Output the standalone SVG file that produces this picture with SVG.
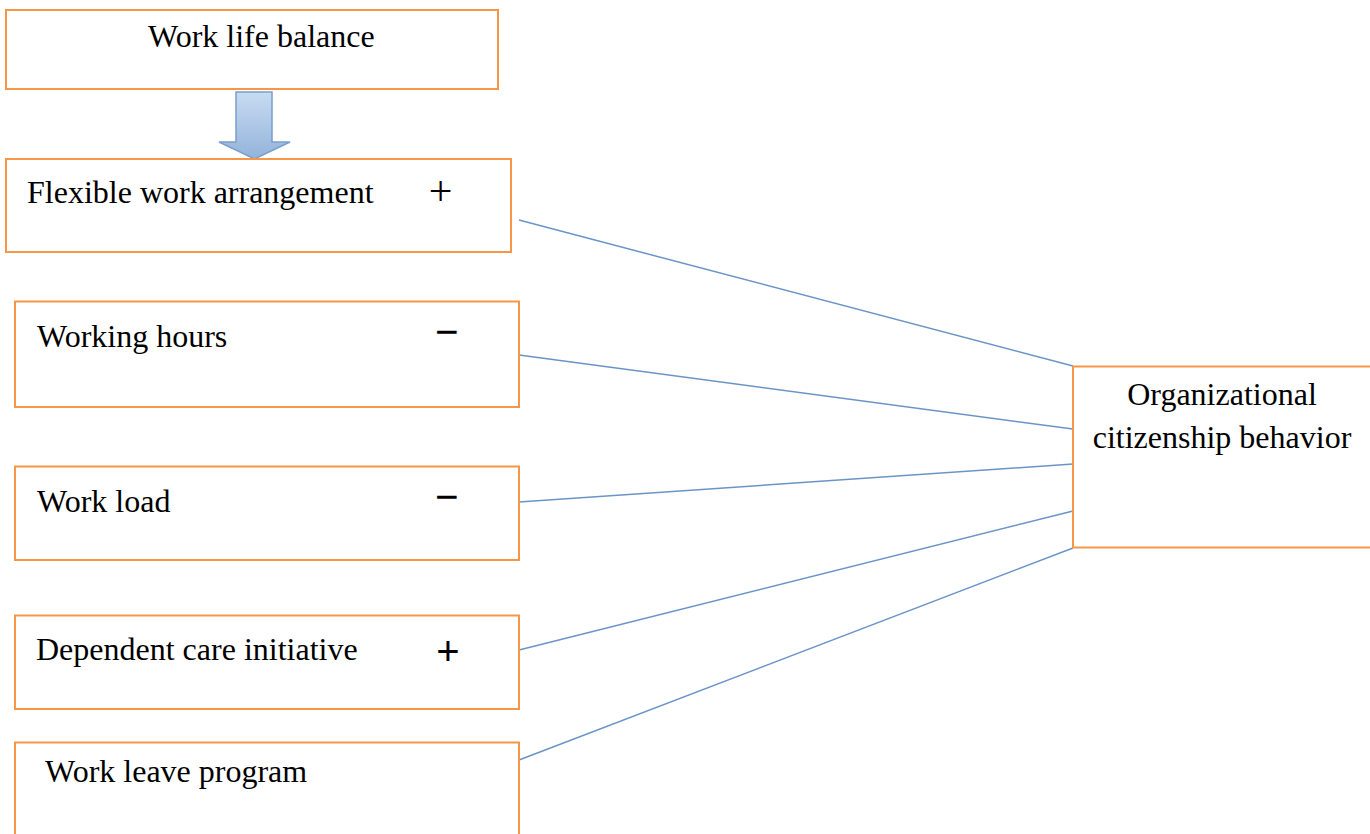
<svg xmlns="http://www.w3.org/2000/svg" width="1370" height="834" viewBox="0 0 1370 834">
<style>
.box{fill:#ffffff;stroke:#F79646;stroke-width:2}
.t{font-family:"Liberation Serif","Times New Roman",serif;font-size:32px;fill:#000}
.sign{font-family:"Liberation Serif","Times New Roman",serif;font-size:42px;fill:#000;text-anchor:middle}
.conn{stroke:#6A94C8;stroke-width:1.5;fill:none}
</style>
<defs>
<linearGradient id="ag" x1="0" y1="0" x2="0" y2="1">
<stop offset="0" stop-color="#C8DCF2"/>
<stop offset="1" stop-color="#93B3DA"/>
</linearGradient>
</defs>
<rect width="1370" height="834" fill="#ffffff"/>
<g id="connectors">
<line class="conn" x1="519" y1="220" x2="1073" y2="366"/>
<line class="conn" x1="519" y1="355" x2="1073" y2="429"/>
<line class="conn" x1="519" y1="502" x2="1073" y2="464"/>
<line class="conn" x1="519" y1="650" x2="1073" y2="511"/>
<line class="conn" x1="519" y1="760" x2="1073" y2="548"/>
<path id="down-arrow" d="M236,92 L272,92 L272,142 L290,142 L254.5,159 L219,142 L236,142 Z" fill="url(#ag)" stroke="#7A9FCC" stroke-width="1.5" stroke-linejoin="miter"/>
</g>
<g id="work-life-balance">
<rect class="box" x="6" y="10" width="492" height="79"/>
<text class="t" x="148" y="47">Work life balance</text>
</g>
<g id="flexible-work">
<rect class="box" x="6" y="159" width="505" height="93"/>
<text class="t" x="27" y="203">Flexible work arrangement</text>
<text class="sign" x="440.5" y="205">+</text>
</g>
<g id="working-hours">
<rect class="box" x="15" y="301.5" width="504" height="105.5"/>
<text class="t" x="37" y="347">Working hours</text>
<text class="sign" x="447" y="346" font-weight="bold">−</text>
</g>
<g id="work-load">
<rect class="box" x="15" y="466.5" width="504" height="93.5"/>
<text class="t" x="37" y="512">Work load</text>
<text class="sign" x="447" y="511" font-weight="bold">−</text>
</g>
<g id="dependent-care">
<rect class="box" x="15" y="615.5" width="504" height="93.5"/>
<text class="t" x="36" y="660">Dependent care initiative</text>
<text x="448" y="665" font-family="Liberation Sans, Arial, sans-serif" font-size="40" text-anchor="middle" fill="#000">+</text>
</g>
<g id="work-leave">
<rect class="box" x="15" y="742.5" width="504" height="100"/>
<text class="t" x="45" y="782">Work leave program</text>
</g>
<g id="ocb">
<rect class="box" x="1073" y="366.5" width="305" height="181"/>
<text class="t" x="1222" y="405" text-anchor="middle">Organizational</text>
<text class="t" x="1222" y="448" text-anchor="middle">citizenship behavior</text>
</g>
</svg>
